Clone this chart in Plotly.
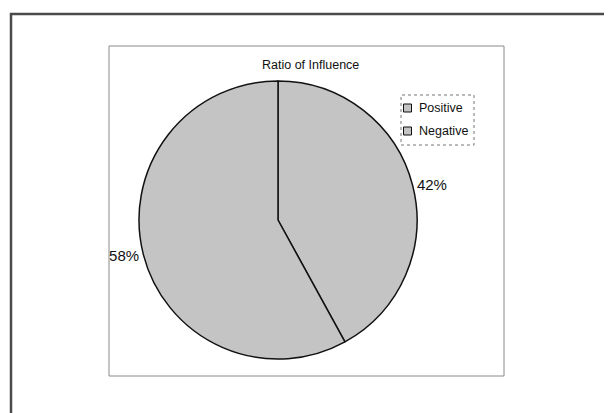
import plotly.graph_objects as go

# Page body has an 8px margin, so the figure is 604x405 and
# reference pixel coordinates are shifted by 8px.
W, H = 604, 405
OFF = 8

labels = ["Positive", "Negative"]
values = [42, 58]
title_text = "Ratio of Influence"

FILL = "#c4c4c4"
FONT = "Liberation Sans, Arial"


def px(x):
    return (x - OFF) / W


def py(y):
    return 1 - (y - OFF) / H


fig = go.Figure()
fig.add_trace(go.Pie(
    labels=labels,
    values=values,
    sort=False,
    direction="clockwise",
    rotation=0,
    texttemplate="%{percent:.0%}",
    textposition="outside",
    outsidetextfont=dict(family=FONT, size=15, color="#111111"),
    marker=dict(
        colors=[FILL] * len(labels),
        line=dict(color="#111111", width=1.5),
    ),
    domain=dict(x=[px(139), px(417)], y=[py(359), py(81)]),
    hoverinfo="skip",
    showlegend=False,
))

shapes = [
    # outer frame
    dict(type="rect", xref="paper", yref="paper",
         x0=px(11), x1=px(640), y0=py(440), y1=py(14),
         line=dict(color="#4a4a4a", width=2.5), fillcolor="rgba(0,0,0,0)"),
    # inner frame
    dict(type="rect", xref="paper", yref="paper",
         x0=px(109), x1=px(504), y0=py(376), y1=py(46),
         line=dict(color="#8a8a8a", width=1), fillcolor="rgba(0,0,0,0)"),
    # legend box
    dict(type="rect", xref="paper", yref="paper",
         x0=px(401), x1=px(474), y0=py(145), y1=py(95),
         line=dict(color="#777777", width=1, dash="dot"), fillcolor="white"),
]

annotations = [dict(
    text=title_text, x=px(310), y=py(65), xref="paper", yref="paper",
    showarrow=False, xanchor="center", yanchor="middle",
    font=dict(family=FONT, size=12.5, color="#111111"),
)]

# legend entries (built from the labels list)
row_y = [108, 131]
for lab, yy in zip(labels, row_y):
    shapes.append(dict(
        type="rect", xref="paper", yref="paper",
        x0=px(403.5), x1=px(411.5), y0=py(yy + 4), y1=py(yy - 4),
        line=dict(color="#111111", width=1), fillcolor=FILL,
    ))
    annotations.append(dict(
        text=lab, x=px(417), y=py(yy), xref="paper", yref="paper",
        showarrow=False, xanchor="left", yanchor="middle",
        font=dict(family=FONT, size=12.5, color="#111111"),
    ))

fig.update_layout(
    width=W, height=H,
    margin=dict(l=0, r=0, t=0, b=0),
    paper_bgcolor="white",
    plot_bgcolor="white",
    shapes=shapes,
    annotations=annotations,
    showlegend=False,
)

fig.write_html("out.html")
